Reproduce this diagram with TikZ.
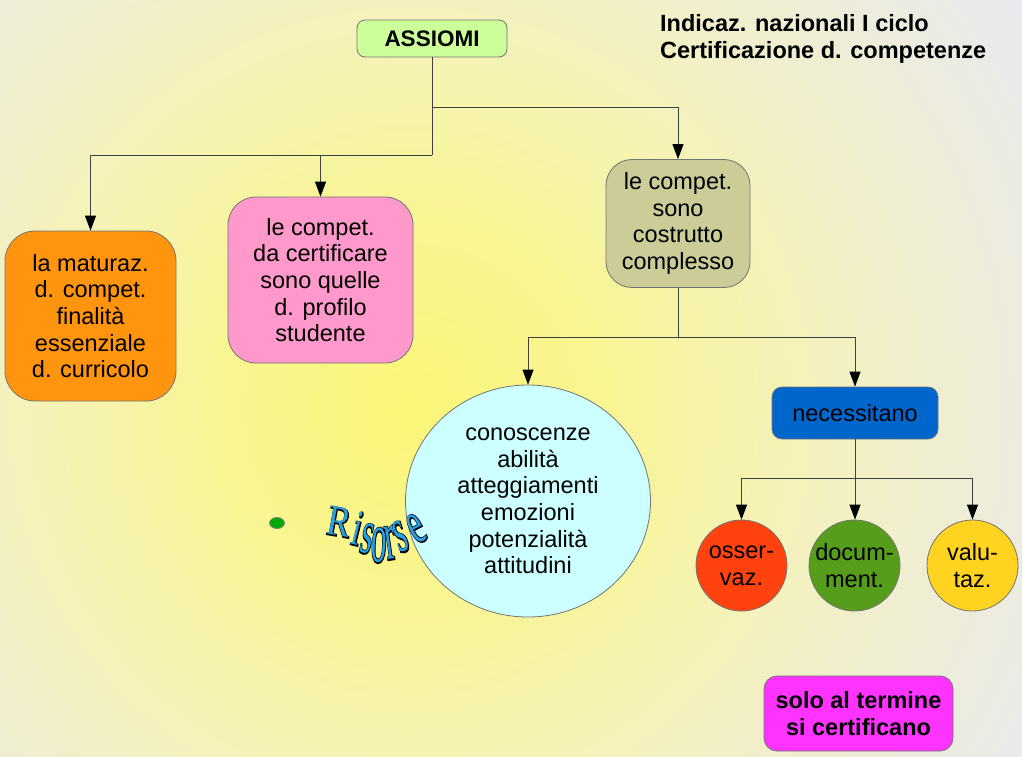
\documentclass[tikz,border=0pt]{standalone}
\usepackage{fontspec}
\setmainfont{Liberation Sans}
\newfontfamily\rsfont{Liberation Serif}
\newfontfamily\rsboldfont[FakeBold=4]{Liberation Serif}
\usetikzlibrary{arrows.meta,shapes.geometric}
\definecolor{cgreen}{RGB}{204,255,153}
\definecolor{corange}{RGB}{255,149,14}
\definecolor{cpink}{RGB}{255,153,204}
\definecolor{colive}{RGB}{204,204,153}
\definecolor{ccyan}{RGB}{204,255,255}
\definecolor{cblue}{RGB}{0,102,204}
\definecolor{cred}{RGB}{255,66,14}
\definecolor{cdgreen}{RGB}{87,157,28}
\definecolor{cyellow}{RGB}{255,211,32}
\definecolor{cmagenta}{RGB}{255,51,255}
\definecolor{risblue}{RGB}{40,160,230}
\definecolor{dotgreen}{RGB}{0,170,0}
\pgfdeclareradialshading{bgshade}{\pgfpoint{0bp}{0bp}}{rgb(0bp)=(0.98,0.965,0.47); rgb(5.3bp)=(0.976,0.961,0.56); rgb(12bp)=(0.961,0.949,0.73); rgb(18bp)=(0.933,0.929,0.85); rgb(24.5bp)=(0.91,0.91,0.965); rgb(50bp)=(0.91,0.91,0.965)}
\newcommand\wartletter[7]{% name x y rot xscale yscale letter
  \node[wl, font=\rsboldfont\fontsize{39}{39}\selectfont, text=black] at (#2,#3) [rotate=#4, xscale=#5, yscale=#6] {#7};
  \node[wl, text=risblue] (#1) at (#2,#3) [rotate=#4, xscale=#5, yscale=#6] {#7};}
\begin{document}
\begin{tikzpicture}[x=1pt,y=-1pt,
  box/.style={draw=black!55, line width=0.8pt, inner sep=0pt, align=center, font=\fontsize{23.5}{26.7}\selectfont},
  conn/.style={draw=black!75, line width=0.9pt},
  arr/.style={conn, -{Triangle[length=15pt,width=11pt,color=black]}},
  wl/.style={font=\rsfont\fontsize{39}{39}\selectfont, inner sep=0pt, anchor=base},
  rbox/.style={box, rectangle}
]
\useasboundingbox (0,0) rectangle (1022,756);
\begin{scope}
  \clip (0,0) rectangle (1022,756);
  \shade[shading=bgshade] (410,410) circle[radius=800];
\end{scope}

% nodes
\node[rbox, fill=cgreen, rounded corners=8pt, minimum width=150pt, minimum height=37pt, font=\bfseries\fontsize{22.5}{26}\selectfont] (a) at (432,38.5) {ASSIOMI};
\node[align=left, inner sep=0pt, anchor=base west, font=\bfseries\fontsize{23.5}{27}\selectfont] (t) at (660,58) {Indicaz. nazionali I ciclo\\Certificazione d. competenze};
\node[rbox, fill=corange, rounded corners=30pt, minimum width=171pt, minimum height=170pt] (o) at (90.5,316) {la maturaz.\\d. compet.\\finalità\\essenziale\\d. curricolo};
\node[rbox, fill=cpink, rounded corners=28pt, minimum width=185pt, minimum height=166pt] (p) at (320.5,280) {le compet.\\da certificare\\sono quelle\\d. profilo\\studente};
\node[rbox, fill=colive, rounded corners=26pt, minimum width=144pt, minimum height=128pt] (c) at (678,223.5) {le compet.\\sono\\costrutto\\complesso};
\node[box, ellipse, fill=ccyan, minimum width=245pt, minimum height=232pt] (e) at (528,501) {conoscenze\\abilità\\atteggiamenti\\emozioni\\potenzialità\\attitudini};
\node[rbox, fill=cblue, rounded corners=10pt, minimum width=166pt, minimum height=52pt] (n) at (855,413) {necessitano};
\node[box, circle, fill=cred, minimum size=91pt] (r1) at (741.5,565.5) {osser-\\vaz.};
\node[box, circle, fill=cdgreen, minimum size=91pt] (g1) at (854.5,565.5) {docum-\\ment.};
\node[box, circle, fill=cyellow, minimum size=91pt] (y1) at (972.5,565.5) {valu-\\taz.};
\node[rbox, fill=cmagenta, rounded corners=13pt, minimum width=189pt, minimum height=75pt, font=\bfseries\fontsize{23.5}{27}\selectfont] (m) at (858.5,713.5) {solo al termine\\si certificano};
\node[ellipse, draw=black!50, line width=0.8pt, fill=dotgreen, minimum width=15pt, minimum height=11pt, inner sep=0pt] (dot) at (277,523) {};

% connectors
\coordinate (ja) at (432,155);
\coordinate (jb) at (432,107);
\coordinate (jc) at (678,337);
\coordinate (jd) at (855,478);
\draw[conn] (a.south) -- (ja);
\draw[arr] (ja) -| (o.north);
\draw[arr] (ja) -| (p.north);
\draw[arr] (jb) -| (c.north);
\draw[conn] (c.south) -- (jc);
\draw[arr] (jc) -| (e.north);
\draw[arr] (jc) -| (n.north);
\draw[conn] (n.south) -- (jd);
\draw[arr] (jd) -| (r1.north);
\draw[arr] (jd) -- (jd |- g1.north);
\draw[arr] (jd) -| (y1.north);

% word art "Risorse"
\wartletter{l1}{337}{536}{-10}{0.9}{1.1}{R}
\wartletter{l2}{354}{545}{-14}{0.8}{1.3}{i}
\wartletter{l3}{364}{553}{-12}{0.8}{1.6}{s}
\wartletter{l4}{378}{562}{-3}{0.8}{1.85}{o}
\wartletter{l5}{392.5}{559}{8}{0.8}{1.8}{r}
\wartletter{l6}{405.5}{551}{18}{0.8}{1.65}{s}
\wartletter{l7}{423}{541}{28}{0.85}{1.55}{e}
\end{tikzpicture}
\end{document}
